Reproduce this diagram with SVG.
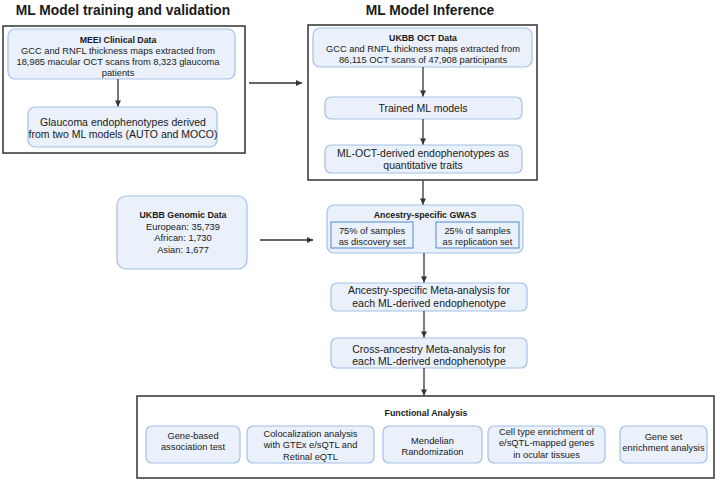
<svg xmlns="http://www.w3.org/2000/svg" width="720" height="480" viewBox="0 0 720 480">
<defs>
<marker id="ah" viewBox="0 0 10 10" refX="10" refY="5" markerWidth="6.5" markerHeight="6" markerUnits="userSpaceOnUse" orient="auto"><path d="M0,0 L10,5 L0,10 z" fill="#333"/></marker>
<style>
text{font-family:"Liberation Sans",Arial,sans-serif;fill:#1a1a1a;text-anchor:middle}
.t{font-size:13.8px;font-weight:bold}
.b{font-size:8.8px;font-weight:bold}
.s{font-size:9.3px}
.m{font-size:10.5px}
.box{fill:#eaf1fb;stroke:#a3c0e8;stroke-width:1.2}
.inner{fill:#eaf1fb;stroke:#6b9bd2;stroke-width:1.2}
.outer{fill:#fff;stroke:#333;stroke-width:1.5}
.c line{stroke:#333;stroke-width:1.3;marker-end:url(#ah)}
</style>
</defs>
<rect width="720" height="480" fill="#fff"/>
<text class="t" x="123" y="15">ML Model training and validation</text>
<text class="t" x="430" y="15">ML Model Inference</text>

<g id="group-left"><rect class="outer" x="3" y="26" width="242" height="127"/></g>
<g id="group-right"><rect class="outer" x="308" y="25" width="229" height="155"/></g>
<g id="group-functional"><rect class="outer" x="137" y="396" width="577" height="82"/>
<text class="b" x="426" y="416">Functional Analysis</text></g>

<g id="meei"><rect class="box" x="8" y="29" width="227" height="50" rx="7"/>
<text class="b" x="118" y="42.5">MEEI Clinical Data</text>
<text class="s" x="118" y="53.5">GCC and RNFL thickness maps extracted from</text>
<text class="s" x="118" y="64.5">18,985 macular OCT scans from 8,323 glaucoma</text>
<text class="s" x="118" y="75.5">patients</text></g>

<g id="glaucoma"><rect class="box" x="28" y="107" width="189" height="40" rx="7"/>
<text class="m" x="123" y="125.5">Glaucoma endophenotypes derived</text>
<text class="m" x="123" y="137.5">from two ML models (AUTO and MOCO)</text></g>

<g id="ukbb-oct"><rect class="box" x="313" y="28" width="219" height="39" rx="7"/>
<text class="b" x="423" y="40.5">UKBB OCT Data</text>
<text class="s" x="423" y="51.5">GCC and RNFL thickness maps extracted from</text>
<text class="s" x="423" y="62.5">86,115 OCT scans of 47,908 participants</text></g>

<g id="trained"><rect class="box" x="325" y="97" width="197" height="22" rx="6"/>
<text class="m" x="423" y="112">Trained ML models</text></g>

<g id="ml-oct"><rect class="box" x="325" y="145" width="197" height="28" rx="6"/>
<text class="m" x="423" y="157">ML-OCT-derived endophenotypes as</text>
<text class="m" x="423" y="169">quantitative traits</text></g>

<g id="genomic"><rect class="box" x="117" y="196" width="130" height="73" rx="9"/>
<text class="b" x="183" y="218">UKBB Genomic Data</text>
<text class="s" x="183" y="229.5">European: 35,739</text>
<text class="s" x="183" y="241">African: 1,730</text>
<text class="s" x="183" y="252.5">Asian: 1,677</text></g>

<g id="gwas"><rect class="box" x="327" y="205" width="196" height="48" rx="7"/>
<text class="b" x="425" y="217.5">Ancestry-specific GWAS</text>
<rect class="inner" x="331" y="222" width="82" height="26"/>
<text class="s" x="372" y="233.5">75% of samples</text>
<text class="s" x="372" y="244.5">as discovery set</text>
<rect class="inner" x="436" y="222" width="83" height="26"/>
<text class="s" x="477.5" y="233.5">25% of samples</text>
<text class="s" x="477.5" y="244.5">as replication set</text></g>

<g id="meta"><rect class="box" x="331" y="283" width="196" height="28" rx="6"/>
<text class="m" x="429" y="294">Ancestry-specific Meta-analysis for</text>
<text class="m" x="429" y="306.5">each ML-derived endophenotype</text></g>

<g id="cross"><rect class="box" x="331" y="338" width="196" height="30" rx="6"/>
<text class="m" x="429" y="352.5">Cross-ancestry Meta-analysis for</text>
<text class="m" x="429" y="365">each ML-derived endophenotype</text></g>

<g id="gene-based"><rect class="box" x="146" y="426" width="94" height="37" rx="6"/>
<text class="s" x="193" y="438.5">Gene-based</text>
<text class="s" x="193" y="449.5">association test</text></g>

<g id="coloc"><rect class="box" x="247" y="426" width="127" height="37" rx="6"/>
<text class="s" x="310.5" y="436.5">Colocalization analysis</text>
<text class="s" x="310.5" y="448">with GTEx e/sQTL and</text>
<text class="s" x="310.5" y="459.5">Retinal eQTL</text></g>

<g id="mendelian"><rect class="box" x="383" y="426" width="99" height="37" rx="6"/>
<text class="s" x="432.5" y="444">Mendelian</text>
<text class="s" x="432.5" y="455">Randomization</text></g>

<g id="celltype"><rect class="box" x="488" y="426" width="117" height="37" rx="6"/>
<text class="s" x="546.5" y="435">Cell type enrichment of</text>
<text class="s" x="546.5" y="446">e/sQTL-mapped genes</text>
<text class="s" x="546.5" y="457.5">in ocular tissues</text></g>

<g id="geneset"><rect class="box" x="620" y="426" width="87" height="37" rx="6"/>
<text class="s" x="663.5" y="440">Gene set</text>
<text class="s" x="663.5" y="450.5">enrichment analysis</text></g>

<g id="connectors" class="c">
<line x1="118" y1="79" x2="118" y2="106.5"/>
<line x1="249" y1="83" x2="302" y2="83"/>
<line x1="423" y1="67" x2="423" y2="96.5"/>
<line x1="423" y1="119" x2="423" y2="144.5"/>
<line x1="423" y1="180.5" x2="423" y2="204.5"/>
<line x1="260" y1="240" x2="313" y2="240"/>
<line x1="424" y1="253" x2="424" y2="282.5"/>
<line x1="424" y1="311" x2="424" y2="337.5"/>
<line x1="424" y1="368" x2="424" y2="395.5"/>
</g>
</svg>
